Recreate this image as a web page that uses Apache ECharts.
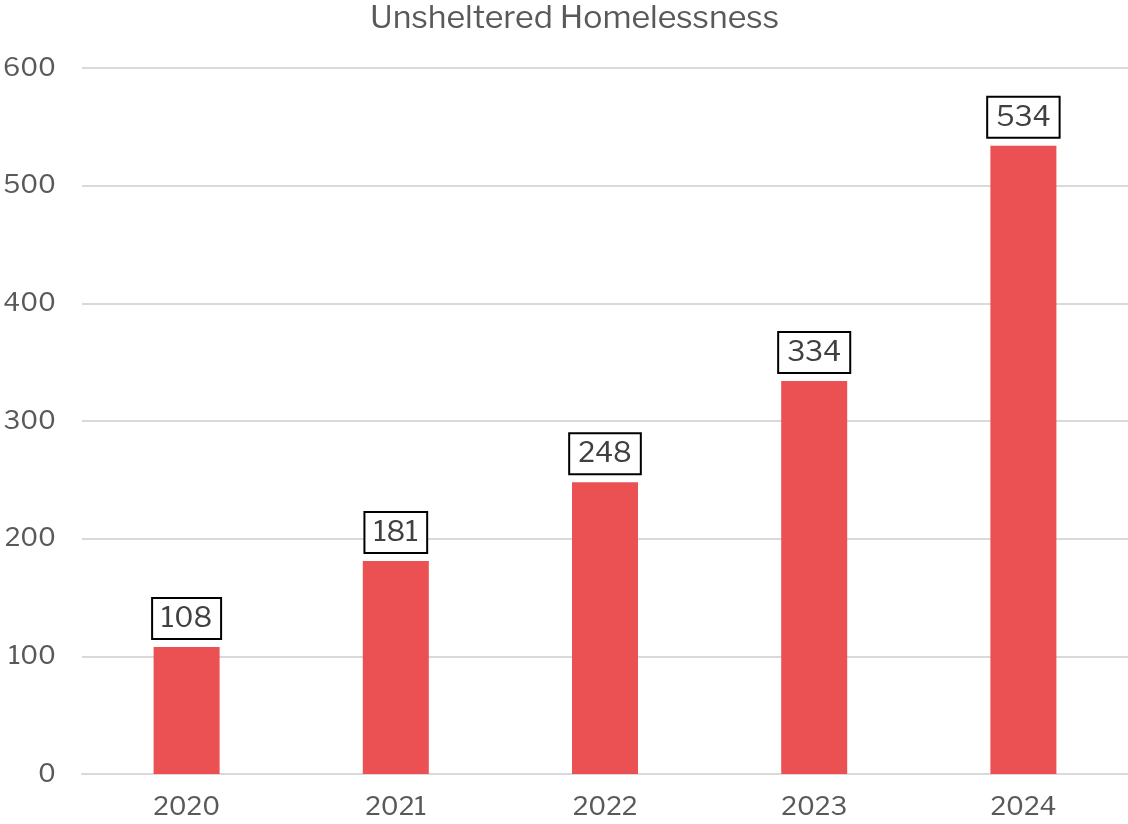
<!DOCTYPE html>
<html>
<head>
<meta charset="utf-8">
<script src="https://cdn.jsdelivr.net/npm/echarts@6/dist/echarts.min.js"></script>
<style>
	html, body { margin: 0; padding: 0; background: #ffffff; }
	#chart { width: 1128px; height: 824px; }
</style>
</head>
<body>
<div id="chart"></div>
<script>
var years = ['2020', '2021', '2022', '2023', '2024'];
var unsheltered = [108, 181, 248, 334, 534];
var yTicks = { min: 0, max: 600, interval: 100 };

var chartColors = {
	bar: '#eb5053',
	axesLabels: '#595959',
	gridLines: '#d9d9d9',
	dataLabels: '#404040'
};
var fontFamily = '"Libre Franklin", "Noto Sans", "Liberation Sans", sans-serif';

var echart = echarts.init(document.getElementById('chart'));

echart.setOption({
	animation: false,
	title: {
		text: 'Unsheltered Homelessness',
		left: 365,
		top: -3,
		textStyle: {
			fontSize: 32,
			fontWeight: 'normal',
			fontFamily: fontFamily,
			color: chartColors.axesLabels
		}
	},
	grid: {
		left: 82,
		right: 0,
		top: 68,
		bottom: 50,
		containLabel: false
	},
	xAxis: {
		type: 'category',
		data: years,
		axisTick: { show: false },
		axisLine: { show: true, lineStyle: { color: chartColors.gridLines, width: 2 } },
		axisLabel: {
			fontSize: 26,
			fontFamily: fontFamily,
			color: chartColors.axesLabels,
			margin: 20
		}
	},
	yAxis: {
		type: 'value',
		min: yTicks.min,
		max: yTicks.max,
		interval: yTicks.interval,
		axisLine: { show: false },
		axisTick: { show: false },
		axisLabel: {
			fontSize: 26,
			fontFamily: fontFamily,
			color: chartColors.axesLabels,
			margin: 26
		},
		splitLine: { show: true, lineStyle: { color: chartColors.gridLines, width: 2 } }
	},
	series: [{
		type: 'bar',
		data: unsheltered,
		barWidth: 66,
		itemStyle: { color: chartColors.bar },
		label: {
			show: true,
			position: 'top',
			distance: 9,
			fontSize: 28,
			fontFamily: fontFamily,
			color: chartColors.dataLabels,
			borderColor: '#000000',
			borderWidth: 2,
			backgroundColor: '#ffffff',
			padding: [6, 8, 5, 8]
		}
	}]
});
</script>
</body>
</html>
